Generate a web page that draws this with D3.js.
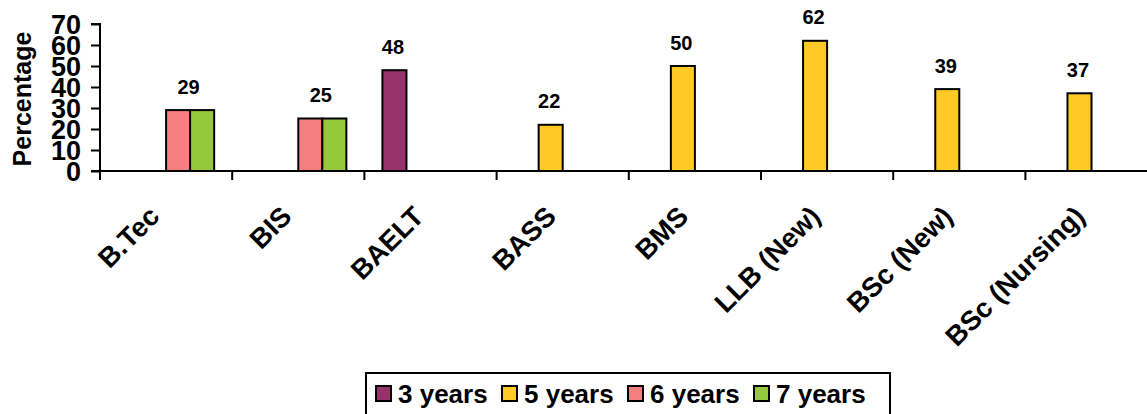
<!DOCTYPE html>
<html>
<head>
<meta charset="utf-8">
<script src="https://cdn.jsdelivr.net/npm/d3@7"></script>
<style>
  html, body { margin: 0; padding: 0; background: #fff; overflow: hidden; }
  svg { display: block; font-family: "Liberation Sans", Arial, sans-serif; font-weight: bold; }
</style>
</head>
<body>
<svg id="chart" width="1147" height="414"></svg>
<script>
// Programmes on the x axis
const categories = ["B.Tec", "BIS", "BAELT", "BASS", "BMS", "LLB (New)", "BSc (New)", "BSc (Nursing)"];

// Percentage by programme duration (null = no bar)
const seriesNames = ["3 years", "5 years", "6 years", "7 years"];
const threeYears = [null, null, 48, null, null, null, null, null];
const fiveYears  = [null, null, null, 22, 50, 62, 39, 37];
const sixYears   = [29, 25, null, null, null, null, null, null];
const sevenYears = [29, 25, null, null, null, null, null, null];

const yTicks = [0, 10, 20, 30, 40, 50, 60, 70];
const colors = ["#96336A", "#FFC926", "#F47F7F", "#95C83D"];

const seriesValues = [threeYears, fiveYears, sixYears, sevenYears];

const svg = d3.select("#chart");

const plotLeft = 100, plotRight = 1157.6, plotTop = 24, plotBottom = 171;

const x0 = d3.scaleBand().domain(categories).range([plotLeft, plotRight]).paddingInner(0).paddingOuter(0);
const x1 = d3.scaleBand().domain(seriesNames).range([0, x0.bandwidth()]).paddingInner(0).paddingOuter(0.75);
const y = d3.scaleLinear().domain([0, 70]).range([plotBottom, plotTop]);
const color = d3.scaleOrdinal().domain(seriesNames).range(colors);

// Bars
const bars = [];
seriesNames.forEach((s, si) => {
  seriesValues[si].forEach((v, ci) => {
    if (v != null) bars.push({ category: categories[ci], series: s, value: v });
  });
});

svg.append("g").selectAll("rect").data(bars).join("rect")
  .attr("x", d => x0(d.category) + x1(d.series))
  .attr("y", d => y(d.value))
  .attr("width", x1.bandwidth())
  .attr("height", d => y(0) - y(d.value))
  .attr("fill", d => color(d.series))
  .attr("stroke", "#000")
  .attr("stroke-width", 2);

// One value label per programme, centred over the bars holding the top value
const labels = categories.map((c, ci) => {
  const vals = seriesNames.map((s, si) => ({ s, v: seriesValues[si][ci] })).filter(d => d.v != null);
  const top = d3.max(vals, d => d.v);
  const hits = vals.filter(d => d.v === top);
  const cx = d3.mean(hits, d => x0(c) + x1(d.s) + x1.bandwidth() / 2);
  return { category: c, value: top, cx };
});

svg.append("g").selectAll("text").data(labels).join("text")
  .attr("x", d => d.cx - 1.5)
  .attr("y", d => y(d.value) - 16.5)
  .attr("text-anchor", "middle")
  .attr("font-size", 20)
  .attr("fill", "#000")
  .text(d => d.value);

// Y axis
const yAxis = d3.axisLeft(y).tickValues(yTicks).tickSize(9).tickPadding(10).tickFormat(d3.format("d"));
const gy = svg.append("g").attr("transform", `translate(${plotLeft},0)`).call(yAxis);
gy.select(".domain").attr("stroke", "#000").attr("stroke-width", 2).attr("d", `M-9,${plotTop}H0V${plotBottom}`);
gy.selectAll(".tick line").attr("stroke", "#000").attr("stroke-width", 2);
gy.selectAll(".tick text")
  .attr("font-size", 27)
  .attr("font-family", "Liberation Sans, Arial, sans-serif")
  .attr("font-weight", "bold")
  .attr("fill", "#000")
  .attr("dy", "0.36em");

// X axis: baseline with tick marks between programmes
const gx = svg.append("g").attr("transform", `translate(0,${plotBottom})`);
gx.append("line")
  .attr("x1", plotLeft - 9).attr("x2", plotRight)
  .attr("stroke", "#000").attr("stroke-width", 2);
const boundaries = categories.map(c => x0(c)).concat([x0.range()[1]]);
gx.selectAll("line.tick").data(boundaries).join("line")
  .attr("class", "tick")
  .attr("x1", d => d).attr("x2", d => d)
  .attr("y1", 0).attr("y2", 9)
  .attr("stroke", "#000").attr("stroke-width", 2);

// Rotated programme names
svg.append("g").selectAll("text").data(categories).join("text")
  .attr("transform", d => `translate(${x0(d) + x0.bandwidth() / 2 - 5},218) rotate(-45)`)
  .attr("text-anchor", "end")
  .attr("font-size", 27.5)
  .attr("fill", "#000")
  .text(d => d);

// Y axis title
svg.append("text")
  .attr("transform", "translate(31,99) rotate(-90)")
  .attr("text-anchor", "middle")
  .attr("font-size", 25)
  .attr("fill", "#000")
  .text("Percentage");

// Legend
const legend = svg.append("g");
legend.append("rect")
  .attr("x", 366).attr("y", 373).attr("width", 524).attr("height", 60)
  .attr("fill", "#fff").attr("stroke", "#000").attr("stroke-width", 2);
const items = legend.selectAll("g.item").data(seriesNames).join("g")
  .attr("class", "item")
  .attr("transform", (d, i) => `translate(${376 + i * 126},0)`);
items.append("rect")
  .attr("x", 0).attr("y", 386).attr("width", 15).attr("height", 15)
  .attr("fill", d => color(d)).attr("stroke", "#000").attr("stroke-width", 2);
items.append("text")
  .attr("x", 22).attr("y", 403)
  .attr("font-size", 26)
  .attr("fill", "#000")
  .text(d => d);
</script>
</body>
</html>
